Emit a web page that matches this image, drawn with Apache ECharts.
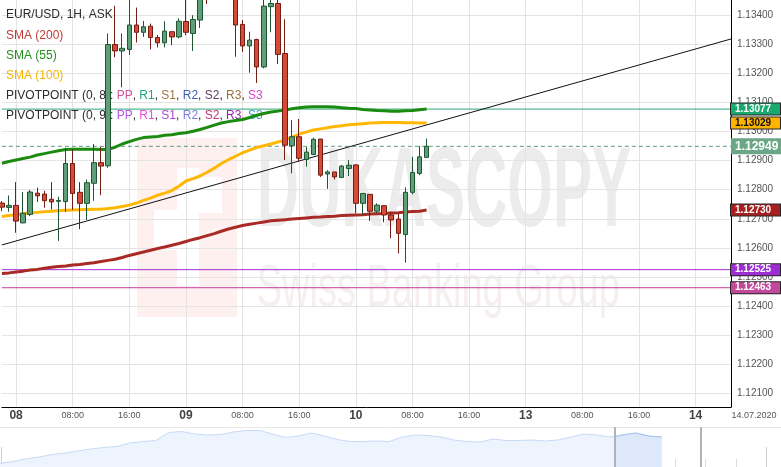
<!DOCTYPE html>
<html>
<head>
<meta charset="utf-8">
<script src="https://cdn.jsdelivr.net/npm/echarts@6.0.0/dist/echarts.min.js"></script>
<style>
html,body{margin:0;padding:0;background:#fff;}
#chart{width:781px;height:467px;}
</style>
</head>
<body>
<div id="chart"></div>
<script>
// ---- categories: hourly slots, July 2020, weekend skipped ----
const tradingDays = ['07', '08', '09', '10', '13', '14'];
const firstHour = 22;   // first slot on 07.07
const lastHour = 5;     // last slot on 14.07

// ---- EUR/USD 1H candles [open, close, low, high], from 07.07 22:00 ----
const candles = [
  [1.12754, 1.12740, 1.12726, 1.12761],
  [1.12739, 1.12746, 1.12724, 1.12780],
  [1.12746, 1.12692, 1.12652, 1.12826],
  [1.12686, 1.12719, 1.12684, 1.12792],
  [1.12715, 1.12792, 1.12709, 1.12799],
  [1.12788, 1.12779, 1.12758, 1.12807],
  [1.12785, 1.12762, 1.12738, 1.12796],
  [1.12767, 1.12758, 1.12732, 1.12826],
  [1.12760, 1.12763, 1.12624, 1.12776],
  [1.12759, 1.12890, 1.12724, 1.12944],
  [1.12890, 1.12787, 1.12730, 1.12938],
  [1.12791, 1.12753, 1.12664, 1.12826],
  [1.12753, 1.12824, 1.12696, 1.12835],
  [1.12822, 1.12893, 1.12762, 1.12957],
  [1.12893, 1.12881, 1.12781, 1.12947],
  [1.12882, 1.13299, 1.12875, 1.13337],
  [1.13299, 1.13277, 1.13255, 1.13432],
  [1.13277, 1.13286, 1.13152, 1.13337],
  [1.13282, 1.13366, 1.13263, 1.13458],
  [1.13366, 1.13341, 1.13306, 1.13426],
  [1.13341, 1.13360, 1.13325, 1.13380],
  [1.13362, 1.13323, 1.13282, 1.13371],
  [1.13323, 1.13305, 1.13289, 1.13332],
  [1.13305, 1.13345, 1.13289, 1.13379],
  [1.13343, 1.13325, 1.13297, 1.13343],
  [1.13325, 1.13379, 1.13320, 1.13389],
  [1.13378, 1.13341, 1.13331, 1.13455],
  [1.13337, 1.13385, 1.13277, 1.13400],
  [1.13383, 1.13469, 1.13356, 1.13493],
  [1.13485, 1.13470, 1.13438, 1.13510],
  [1.13470, 1.13560, 1.13455, 1.13580],
  [1.13560, 1.13640, 1.13540, 1.13700],
  [1.13640, 1.13540, 1.13520, 1.13680],
  [1.13530, 1.13366, 1.13257, 1.13560],
  [1.13368, 1.13294, 1.13274, 1.13383],
  [1.13294, 1.13314, 1.13202, 1.13343],
  [1.13316, 1.13222, 1.13167, 1.13319],
  [1.13222, 1.13431, 1.13217, 1.13462],
  [1.13429, 1.13440, 1.13341, 1.13462],
  [1.13440, 1.13265, 1.13232, 1.13458],
  [1.13268, 1.12953, 1.12902, 1.13386],
  [1.12951, 1.12982, 1.12856, 1.13039],
  [1.12982, 1.12908, 1.12896, 1.13043],
  [1.12904, 1.12929, 1.12879, 1.12947],
  [1.12921, 1.12973, 1.12919, 1.12979],
  [1.12974, 1.12850, 1.12844, 1.12974],
  [1.12854, 1.12861, 1.12803, 1.12867],
  [1.12861, 1.12844, 1.12835, 1.12861],
  [1.12842, 1.12881, 1.12842, 1.12885],
  [1.12873, 1.12884, 1.12847, 1.12902],
  [1.12885, 1.12753, 1.12719, 1.12888],
  [1.12753, 1.12787, 1.12713, 1.12787],
  [1.12784, 1.12726, 1.12693, 1.12784],
  [1.12726, 1.12747, 1.12719, 1.12753],
  [1.12745, 1.12713, 1.12688, 1.12747],
  [1.12713, 1.12696, 1.12633, 1.12724],
  [1.12699, 1.12650, 1.12581, 1.12719],
  [1.12646, 1.12791, 1.12549, 1.12808],
  [1.12791, 1.12859, 1.12784, 1.12913],
  [1.12856, 1.12913, 1.12850, 1.12950],
  [1.12911, 1.12949, 1.12911, 1.12976]
];

const sma200 = [1.12512,1.12514,1.12517,1.12520,1.12524,1.12526,1.12530,1.12533,1.12536,1.12538,1.12541,1.12543,1.12546,1.12549,1.12553,1.12557,1.12561,1.12567,1.12574,1.12580,1.12586,1.12592,1.12598,1.12603,1.12609,1.12615,1.12622,1.12629,1.12635,1.12642,1.12649,1.12657,1.12665,1.12671,1.12677,1.12681,1.12685,1.12689,1.12693,1.12695,1.12697,1.12699,1.12701,1.12703,1.12705,1.12706,1.12708,1.12709,1.12711,1.12712,1.12713,1.12714,1.12716,1.12717,1.12718,1.12720,1.12721,1.12723,1.12725,1.12726,1.12730];

const sma55 = [1.12891,1.12897,1.12902,1.12907,1.12912,1.12919,1.12924,1.12929,1.12934,1.12938,1.12939,1.12939,1.12939,1.12939,1.12938,1.12939,1.12946,1.12957,1.12965,1.12973,1.12979,1.12981,1.12983,1.12987,1.12989,1.12993,1.12996,1.13001,1.13007,1.13014,1.13022,1.13029,1.13034,1.13038,1.13041,1.13048,1.13056,1.13062,1.13067,1.13070,1.13074,1.13078,1.13082,1.13084,1.13085,1.13085,1.13085,1.13084,1.13082,1.13080,1.13079,1.13076,1.13074,1.13072,1.13071,1.13070,1.13070,1.13071,1.13072,1.13075,1.13077];

const sma100 = [1.12708,1.12711,1.12714,1.12717,1.12720,1.12722,1.12724,1.12726,1.12728,1.12729,1.12730,1.12731,1.12732,1.12733,1.12733,1.12735,1.12738,1.12742,1.12747,1.12754,1.12763,1.12771,1.12781,1.12788,1.12797,1.12812,1.12830,1.12838,1.12847,1.12860,1.12874,1.12890,1.12903,1.12915,1.12927,1.12936,1.12945,1.12951,1.12957,1.12964,1.12970,1.12981,1.12991,1.12998,1.13005,1.13009,1.13013,1.13017,1.13020,1.13023,1.13025,1.13027,1.13029,1.13030,1.13031,1.13031,1.13031,1.13030,1.13030,1.13029,1.13029];

// trend line end values (first and last slot)
const trendStart = 1.12610;
const trendEnd = 1.13318;

const lastPrice = 1.12949;
const sma55Level = 1.13077;
const pivotLevel8 = 1.12525;
const pivotLevel9 = 1.12463;

const yTicks = [1.121,1.122,1.123,1.124,1.125,1.126,1.127,1.128,1.129,1.130,1.131,1.132,1.133,1.134];

// navigator (longer history overview)
const navigatorValues = [1.0674,1.0710,1.0760,1.0800,1.0850,1.0880,1.0920,1.0960,1.0990,1.1010,1.1080,1.1110,1.1130,1.1290,1.1310,1.1260,1.1240,1.1250,1.1300,1.1330,1.1330,1.1260,1.1190,1.1220,1.1280,1.1220,1.1150,1.1110,1.1110,1.1120,1.1110,1.1200,1.1240,1.1230,1.1200,1.1140,1.1110,1.1100,1.1160,1.1130,1.1130,1.1140,1.1120,1.1140,1.1200,1.1260,1.1240,1.1200,1.1240,1.1280,1.1220,1.1200];
const navSelStart = 47.4;
const navSelStartValue = 1.1210;
const navSelEnd = 54.0;
const dateLabel = '14.07.2020';

// ---- build categories ----
const categories = [];
tradingDays.forEach((d, i) => {
  const s = i === 0 ? firstHour : 0;
  const e = i === tradingDays.length - 1 ? lastHour : 23;
  for (let h = s; h <= e; h++) categories.push(d + '.07.2020 ' + String(h).padStart(2, '0') + ':00');
});
const hourOf = v => parseInt(v.slice(11, 13), 10);
const every8 = (idx, v) => hourOf(v) % 8 === 0;
const navData = navigatorValues.map((v, i) => [i, v]);
const navSelData = [[navSelStart, navSelStartValue]].concat(navData.filter(p => p[0] > navSelStart));
const fullSpan = v => [[categories[0], v], [categories[categories.length - 1], v]];

const FONT = '"Liberation Sans", Arial, sans-serif';

function tag(bg, fg) {
  return {
    show: true, position: 'end', distance: 0,
    formatter: p => Number(p.value).toFixed(5),
    backgroundColor: bg, color: fg, borderColor: '#262626', borderWidth: 1,
    padding: [1, 3, 0, 4], width: 42, lineHeight: 10, fontSize: 10, fontWeight: 'bold',
    fontFamily: FONT
  };
}
const bigTag = {
  show: true, position: 'end', distance: 0, formatter: p => Number(p.value).toFixed(5),
  backgroundColor: '#6ba687', color: '#fff', padding: [2, 3, 1, 4], width: 43, lineHeight: 13,
  fontSize: 12, fontWeight: 'bold', fontFamily: FONT
};
function tagLine(value, label) {
  return {
    silent: true, symbol: ['none', 'none'], animation: false, precision: 5,
    lineStyle: { width: 1, color: 'rgba(255,255,255,0)' },
    data: [{ yAxis: value, label: label }]
  };
}
function levelSeries(name, value, color, type, label) {
  return {
    name: name, type: 'line', symbol: 'none', z: 3, data: fullSpan(value),
    lineStyle: { color: color, width: 1, type: type },
    markLine: tagLine(value, label)
  };
}

const chart = echarts.init(document.getElementById('chart'));
chart.setOption({
  animation: false,
  backgroundColor: '#fff',
  textStyle: { fontFamily: FONT },
  grid: [
    { left: 1.9, right: 50, top: 0, bottom: 60 },
    { left: 0, right: 0, top: 427, bottom: 0 },
    { left: 1.7, right: 0, top: 427, bottom: 0 }
  ],
  xAxis: [
    {
      type: 'category', gridIndex: 0, data: categories, boundaryGap: false,
      axisLine: { onZero: false, lineStyle: { color: '#000', width: 1 } },
      axisTick: { show: false },
      axisLabel: {
        interval: every8, margin: 0,
        formatter: v => hourOf(v) === 0 ? '{d|' + v.slice(0, 2) + '}' : '{t|' + v.slice(11) + '}',
        rich: {
          d: { fontSize: 12, fontWeight: 'bold', color: '#444', lineHeight: 18, fontFamily: FONT },
          t: { fontSize: 9, color: '#555', lineHeight: 18, fontFamily: FONT }
        }
      },
      splitLine: { show: true, interval: every8, lineStyle: { color: '#e4e4e4', width: 1 } }
    },
    { type: 'value', gridIndex: 1, min: 0, max: 60.2, show: false },
    {
      type: 'value', gridIndex: 2, min: 0, max: 25.47, interval: 5,
      axisLine: { show: false }, axisLabel: { show: false }, splitLine: { show: false },
      axisTick: { show: true, inside: true, length: 20, lineStyle: { color: '#d0d0d0' } },
      minorTick: { show: true, splitNumber: 5, length: 8, lineStyle: { color: '#dcdcdc' } }
    }
  ],
  yAxis: [
    {
      type: 'value', gridIndex: 0, position: 'right', min: 1.12053, max: 1.13452,
      axisLine: { show: true, onZero: false, lineStyle: { color: '#000', width: 1 } },
      axisTick: { show: false, customValues: yTicks },
      axisLabel: { customValues: yTicks, formatter: v => v.toFixed(5), color: '#555', fontSize: 10, margin: 6 },
      splitLine: { show: true, lineStyle: { color: '#e4e4e4', width: 1 } }
    },
    { type: 'value', gridIndex: 1, min: 1.06, max: 1.14, show: false },
    { type: 'value', gridIndex: 2, min: 0, max: 1, show: false }
  ],
  series: [
    levelSeries('PP level', sma55Level, '#2aa776', 'solid', tag('#19a96f', '#fff')),
    levelSeries('last price', lastPrice, '#5e9a7a', [4, 3], bigTag),
    levelSeries('pivot (0, 8)', pivotLevel8, '#a52fd6', 'solid', tag('#9d2fd2', '#fff')),
    levelSeries('pivot (0, 9)', pivotLevel9, '#c63c9b', 'solid', tag('#c2489a', '#fff')),
    { name: 'SMA (200)', type: 'line', data: sma200, symbol: 'none', z: 3,
      lineStyle: { color: '#a92a25', width: 3 },
      markLine: tagLine(sma200[sma200.length - 1], tag('#a81f1f', '#fff')) },
    { name: 'SMA (55)', type: 'line', data: sma55, symbol: 'none', z: 3,
      lineStyle: { color: '#1b8b10', width: 3 } },
    { name: 'SMA (100)', type: 'line', data: sma100, symbol: 'none', z: 3,
      lineStyle: { color: '#ffb703', width: 3 },
      markLine: tagLine(sma100[sma100.length - 1], tag('#ffb400', '#111')) },
    { name: 'trend', type: 'line', symbol: 'none', z: 3,
      data: [[categories[0], trendStart], [categories[categories.length - 1], trendEnd]],
      lineStyle: { color: '#111', width: 1 } },
    {
      name: 'EUR/USD', type: 'candlestick', data: candles, barWidth: 5, z: 4, clip: true,
      itemStyle: { color: '#5e9f78', color0: '#d64a38', borderColor: '#1f5532', borderColor0: '#731c12', borderWidth: 1 }
    },
    {
      name: 'navigator', type: 'line', xAxisIndex: 1, yAxisIndex: 1, data: navData, symbol: 'none',
      lineStyle: { width: 1, color: '#c6daf6' }, areaStyle: { color: '#eef4fd', opacity: 1 },
      markLine: {
        silent: true, symbol: ['none', 'none'], animation: false, label: { show: false },
        lineStyle: { color: '#b3b3b3', width: 2, type: 'solid' },
        data: [{ xAxis: navSelStart }, { xAxis: navSelEnd }]
      }
    },
    {
      name: 'navigator window', type: 'line', xAxisIndex: 1, yAxisIndex: 1, data: navSelData, symbol: 'none',
      lineStyle: { width: 1, color: '#a6c4f0' }, areaStyle: { color: '#dde8fb', opacity: 1 }
    }
  ],
  graphic: [
    // watermark
    { type: 'rect', z: -5, silent: true, shape: { x: 137, y: 138, width: 100, height: 179 }, style: { fill: '#fdf0ef' } },
    { type: 'rect', z: -4, silent: true, shape: { x: 177, y: 168, width: 22, height: 118 }, style: { fill: '#ffffff' } },
    { type: 'rect', z: -4, silent: true, shape: { x: 199, y: 177, width: 23, height: 36 }, style: { fill: '#ffffff' } },
    { type: 'rect', z: -4, silent: true, shape: { x: 154, y: 210, width: 23, height: 40 }, style: { fill: '#ffffff' } },
    { type: 'text', z: -4, silent: true, x: 256.7, y: 195, scaleX: 0.514,
      style: { text: 'DUKASCOPY', x: 0, y: 0, fill: '#ececec', font: 'bold 114px "Liberation Sans"', verticalAlign: 'middle', align: 'left' } },
    { type: 'text', z: -4, silent: true, x: 256.7, y: 289, scaleX: 0.633,
      style: { text: 'Swiss Banking Group', x: 0, y: 0, fill: '#f5efef', font: '60px "Liberation Sans"', verticalAlign: 'middle', align: 'left' } },
    // legend
    { type: 'text', z: 1, silent: true, style: { text: 'EUR/USD, 1H, ASK', x: 6, y: 15, fill: '#2b2b2b', font: '12px "Liberation Sans"', verticalAlign: 'middle' } },
    { type: 'text', z: 1, silent: true, style: { text: 'SMA (200)', x: 6, y: 35.5, fill: '#bf3a35', font: '12px "Liberation Sans"', verticalAlign: 'middle' } },
    { type: 'text', z: 1, silent: true, style: { text: 'SMA (55)', x: 6, y: 55.5, fill: '#23901c', font: '12px "Liberation Sans"', verticalAlign: 'middle' } },
    { type: 'text', z: 1, silent: true, style: { text: 'SMA (100)', x: 6, y: 75.5, fill: '#f7b400', font: '12px "Liberation Sans"', verticalAlign: 'middle' } },
    { type: 'text', z: 1, silent: true, style: {
        x: 6, y: 95.5, verticalAlign: 'middle', font: '12px "Liberation Sans"',
        text: '{a|PIVOTPOINT (0, 8): }{pp|PP}{a|, }{r1|R1}{a|, }{s1|S1}{a|, }{r2|R2}{a|, }{s2|S2}{a|, }{r3|R3}{a|, }{s3|S3}',
        rich: {
          a: { fill: '#2b2b2b', fontSize: 12, fontFamily: 'Liberation Sans' },
          pp: { fill: '#d4559f', fontSize: 12, fontFamily: 'Liberation Sans' },
          r1: { fill: '#1ea77b', fontSize: 12, fontFamily: 'Liberation Sans' },
          s1: { fill: '#9b7a45', fontSize: 12, fontFamily: 'Liberation Sans' },
          r2: { fill: '#3f5eae', fontSize: 12, fontFamily: 'Liberation Sans' },
          s2: { fill: '#60405f', fontSize: 12, fontFamily: 'Liberation Sans' },
          r3: { fill: '#9e6d3c', fontSize: 12, fontFamily: 'Liberation Sans' },
          s3: { fill: '#d043d2', fontSize: 12, fontFamily: 'Liberation Sans' }
        } } },
    { type: 'text', z: 1, silent: true, style: {
        x: 6, y: 115.5, verticalAlign: 'middle', font: '12px "Liberation Sans"',
        text: '{a|PIVOTPOINT (0, 9): }{pp|PP}{a|, }{r1|R1}{a|, }{s1|S1}{a|, }{r2|R2}{a|, }{s2|S2}{a|, }{r3|R3}{a|, }{s3|S3}',
        rich: {
          a: { fill: '#2b2b2b', fontSize: 12, fontFamily: 'Liberation Sans' },
          pp: { fill: '#b455e6', fontSize: 12, fontFamily: 'Liberation Sans' },
          r1: { fill: '#ee4ede', fontSize: 12, fontFamily: 'Liberation Sans' },
          s1: { fill: '#b144d6', fontSize: 12, fontFamily: 'Liberation Sans' },
          r2: { fill: '#7c80e2', fontSize: 12, fontFamily: 'Liberation Sans' },
          s2: { fill: '#c73470', fontSize: 12, fontFamily: 'Liberation Sans' },
          r3: { fill: '#9a22b3', fontSize: 12, fontFamily: 'Liberation Sans' },
          s3: { fill: '#3c9fd2', fontSize: 12, fontFamily: 'Liberation Sans' }
        } } },
    // date label, navigator separator
    { type: 'text', silent: true, style: { text: dateLabel, x: 754, y: 416, fill: '#555', font: '9px "Liberation Sans"', align: 'center', verticalAlign: 'middle' } },
    { type: 'line', silent: true, shape: { x1: 0, y1: 427.5, x2: 781, y2: 427.5 }, style: { stroke: '#e8e8e8', lineWidth: 1 } }
  ]
});
</script>
</body>
</html>
